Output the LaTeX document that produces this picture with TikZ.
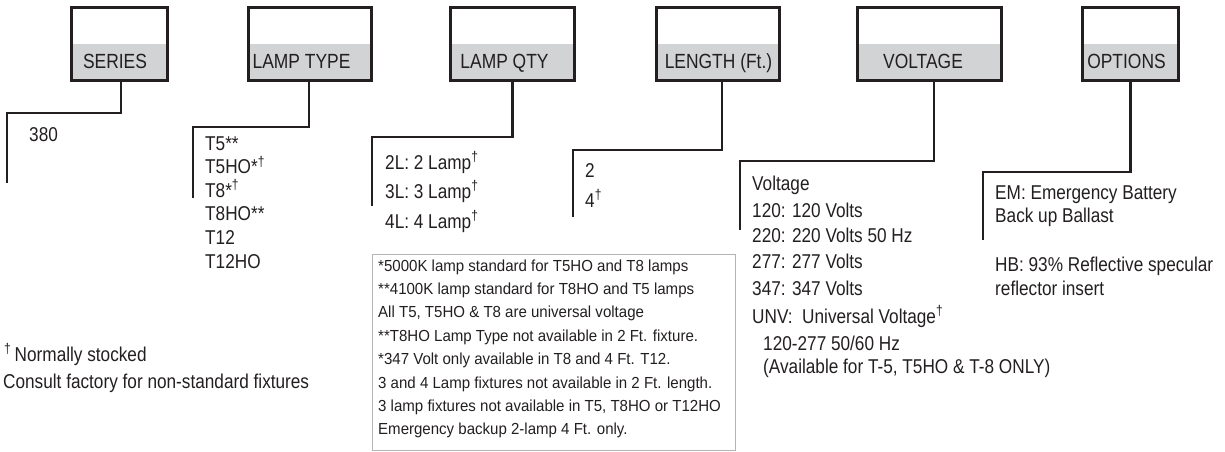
\documentclass[tikz,border=0pt]{standalone}
\usepackage{fontspec}
\setmainfont{Liberation Sans}
\newfontfamily\hdrfont{Liberation Sans}[FakeStretch=0.85]
\newfontfamily\lstfont{Liberation Sans}[FakeStretch=0.86]
\newfontfamily\notefont{Liberation Sans}[FakeStretch=0.94]
\definecolor{ink}{HTML}{231F20}
\definecolor{band}{HTML}{D1D3D4}
\definecolor{frame}{HTML}{B4B4B4}
\newcommand\dagsup{\textsuperscript{†}}
\begin{document}
\begin{tikzpicture}[x=1pt,y=-1pt,
  hdrbox/.style={draw=ink, line width=3pt, minimum width=#1, minimum height=73pt,
    inner sep=0pt, outer sep=0pt,
    path picture={\fill[band] (path picture bounding box.west) rectangle (path picture bounding box.south east);}},
  hdrtxt/.style={font=\hdrfont\fontsize{20.5}{24}\selectfont, text=ink, anchor=base, inner sep=0pt},
  lst/.style={font=\lstfont\fontsize{20}{24}\selectfont, text=ink, anchor=base west, inner sep=0pt},
  note/.style={font=\notefont\fontsize{16}{19}\selectfont, text=ink, anchor=base west, inner sep=0pt},
  conn/.style={draw=ink, line width=2.6pt},
  notebox/.style={draw=frame, line width=0.8pt, minimum width=363pt, minimum height=196pt, inner sep=0pt, outer sep=0pt}
]
\useasboundingbox (0,0) rectangle (1225,451);

% header boxes
\node[hdrbox=96pt]  (series) at (119.5,44) {};
\node[hdrbox=123pt] (ltype)  at (310,44) {};
\node[hdrbox=124pt] (lqty)   at (512.5,44) {};
\node[hdrbox=123pt] (len)    at (718,44) {};
\node[hdrbox=144pt] (volt)   at (929.5,44) {};
\node[hdrbox=96pt]  (opt)    at (1130.5,44) {};

\node[hdrtxt] (seriesT) at (115,68) {SERIES};
\node[hdrtxt] (ltypeT)  at (301.5,68) {LAMP TYPE};
\node[hdrtxt] (lqtyT)   at (504.5,68) {LAMP QTY};
\node[hdrtxt] (lenT)    at (718.5,68) {LENGTH (Ft.)};
\node[hdrtxt] (voltT)   at (923,68) {VOLTAGE};
\node[hdrtxt] (optT)    at (1126.5,68) {OPTIONS};

% connector corners
\coordinate (s1) at (7,113);    \coordinate (s2) at (7,183);
\coordinate (t1) at (193,127);  \coordinate (t2) at (193,198);
\coordinate (q1) at (372,137);  \coordinate (q2) at (372,206);
\coordinate (l1) at (573,150);  \coordinate (l2) at (573,217);
\coordinate (v1) at (740,161);  \coordinate (v2) at (740,230);
\coordinate (o1) at (983,172);  \coordinate (o2) at (983,240);

\draw[conn] ([xshift=1.5pt]series.south) |- (s1) -- (s2);
\draw[conn] ([xshift=-1pt]ltype.south) |- (t1) -- (t2);
\draw[conn] (lqty.south) |- (q1) -- (q2);
\draw[conn] ([xshift=4pt]len.south) |- (l1) -- (l2);
\draw[conn] ([xshift=4.5pt]volt.south) |- (v1) -- (v2);
\draw[conn] (opt.south) |- (o1) -- (o2);

% series
\node[lst] (s380) at (29,141) {380};

% lamp type
\node[lst] (ta) at (205,150) {T5**};
\node[lst] (tb) at (205,173.6) {T5HO*\dagsup};
\node[lst] (tc) at (205,197.2) {T8*\dagsup};
\node[lst] (td) at (205,220.8) {T8HO**};
\node[lst] (te) at (205,244.4) {T12};
\node[lst] (tf) at (205,268) {T12HO};

% lamp qty
\node[lst] (qa) at (385,169) {2L: 2 Lamp\dagsup};
\node[lst] (qb) at (385,198) {3L: 3 Lamp\dagsup};
\node[lst] (qc) at (385,228) {4L: 4 Lamp\dagsup};

% length
\node[lst] (la) at (585,177) {2};
\node[lst] (lb) at (585,207) {4\dagsup};

% voltage
\node[lst] (va) at (752,190) {Voltage};
\node[lst] (vb) at (752,217) {120: 120 Volts};
\node[lst] (vc) at (752,242) {220: 220 Volts 50 Hz};
\node[lst] (vd) at (752,268) {277: 277 Volts};
\node[lst] (ve) at (752,295) {347: 347 Volts};
\node[lst] (vf) at (752,323) {UNV:\ \ Universal Voltage\dagsup};
\node[lst] (vg) at (763,350) {120-277 50/60 Hz};
\node[lst] (vh) at (763,373) {(Available for T-5, T5HO \& T-8 ONLY)};

% options
\node[lst] (oa) at (995,199) {EM: Emergency Battery};
\node[lst] (ob) at (995,222) {Back up Ballast};
\node[lst] (oc) at (995,271) {HB: 93\% Reflective specular};
\node[lst] (od) at (995,295) {reflector insert};

% footnote box
\node[notebox, anchor=north west] (fbox) at (372,254) {};
\node[note] (fa) at (378,271) {*5000K lamp standard for T5HO and T8 lamps};
\node[note] (fb) at (378,294.4) {**4100K lamp standard for T8HO and T5 lamps};
\node[note] (fc) at (378,317.8) {All T5, T5HO \& T8 are universal voltage};
\node[note] (fd) at (378,341.2) {**T8HO Lamp Type not available in 2 Ft. fixture.};
\node[note] (fe) at (378,364.6) {*347 Volt only available in T8 and 4 Ft. T12.};
\node[note] (ff) at (378,388) {3 and 4 Lamp fixtures not available in 2 Ft. length.};
\node[note] (fg) at (378,411.4) {3 lamp fixtures not available in T5, T8HO or T12HO};
\node[note] (fh) at (378,434.8) {Emergency backup 2-lamp 4 Ft. only.};

% legend
\node[lst] (ga) at (4,361) {\dagsup\,Normally stocked};
\node[lst] (gb) at (3,388) {Consult factory for non-standard fixtures};
\end{tikzpicture}
\end{document}
